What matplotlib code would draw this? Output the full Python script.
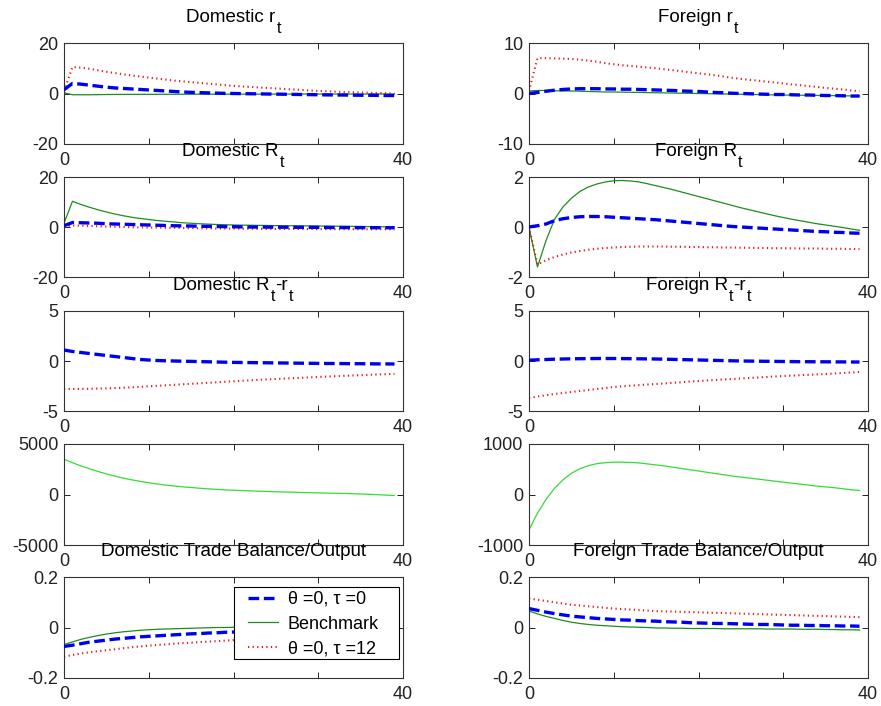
import matplotlib
matplotlib.use("Agg")
import matplotlib.pyplot as plt
from matplotlib.patches import Rectangle
import numpy as np

plt.rcParams['font.family'] = ['Liberation Sans', 'DejaVu Sans']
plt.rcParams['mathtext.default'] = 'regular'
plt.rcParams['axes.unicode_minus'] = False

periods = list(range(40))

# ---- Domestic r_t
dom_r_tt0 = [1.5, 4.0, 3.7, 3.3, 2.9, 2.5, 2.2, 2.0, 1.8, 1.6, 1.4, 1.2, 1.0, 0.8, 0.6, 0.45, 0.35, 0.25, 0.15, 0.05,
             0.0, -0.05, -0.1, -0.15, -0.2, -0.25, -0.3, -0.35, -0.4, -0.45, -0.5, -0.55, -0.6, -0.6, -0.65, -0.7, -0.7, -0.75, -0.8, -0.8]
dom_r_bench = [0.3, -0.5, -0.5, -0.5, -0.45, -0.4, -0.38, -0.36, -0.35, -0.34, -0.33, -0.32, -0.31, -0.3, -0.3, -0.29, -0.28, -0.28, -0.27, -0.27,
               -0.26, -0.26, -0.25, -0.25, -0.25, -0.24, -0.24, -0.24, -0.23, -0.23, -0.23, -0.22, -0.22, -0.22, -0.21, -0.21, -0.21, -0.2, -0.2, -0.2]
dom_r_tt12 = [1.0, 10.5, 10.2, 9.8, 9.2, 8.6, 8.1, 7.6, 7.1, 6.7, 6.3, 5.9, 5.5, 5.1, 4.8, 4.5, 4.2, 3.9, 3.6, 3.3,
              3.0, 2.8, 2.6, 2.4, 2.2, 2.0, 1.8, 1.6, 1.4, 1.2, 1.0, 0.9, 0.75, 0.6, 0.5, 0.4, 0.3, 0.2, 0.1, 0.0]

# ---- Foreign r_t
for_r_tt0 = [0.0, 0.2, 0.45, 0.65, 0.8, 0.9, 0.95, 0.95, 0.95, 0.9, 0.9, 0.85, 0.85, 0.8, 0.75, 0.7, 0.65, 0.6, 0.5, 0.45,
             0.4, 0.3, 0.2, 0.15, 0.05, 0.0, -0.05, -0.1, -0.15, -0.2, -0.2, -0.25, -0.3, -0.3, -0.35, -0.4, -0.4, -0.45, -0.5, -0.5]
for_r_bench = [0.5, 0.6, 0.6, 0.55, 0.5, 0.5, 0.45, 0.4, 0.35, 0.3, 0.3, 0.27, 0.24, 0.21, 0.18, 0.15, 0.12, 0.09, 0.06, 0.03,
               0.0, -0.03, -0.06, -0.09, -0.12, -0.15, -0.18, -0.21, -0.24, -0.27, -0.3, -0.32, -0.34, -0.36, -0.38, -0.4, -0.42, -0.45, -0.48, -0.5]
for_r_tt12 = [0.5, 7.0, 7.0, 6.95, 6.9, 6.85, 6.7, 6.5, 6.3, 6.0, 5.8, 5.6, 5.45, 5.3, 5.15, 5.0, 4.8, 4.6, 4.4, 4.2,
              4.0, 3.8, 3.6, 3.35, 3.1, 2.9, 2.7, 2.55, 2.35, 2.2, 2.0, 1.8, 1.65, 1.45, 1.3, 1.1, 0.95, 0.8, 0.6, 0.45]

# ---- Domestic R_t
dom_R_tt0 = [0.5, 1.8, 1.7, 1.6, 1.5, 1.3, 1.2, 1.1, 1.0, 0.9, 0.8, 0.7, 0.6, 0.5, 0.45, 0.4, 0.3, 0.25, 0.2, 0.15,
             0.1, 0.05, 0.0, -0.02, -0.04, -0.06, -0.08, -0.1, -0.12, -0.14, -0.16, -0.18, -0.2, -0.22, -0.24, -0.25, -0.26, -0.27, -0.28, -0.3]
dom_R_bench = [1.5, 10.3, 9.0, 7.9, 6.9, 6.0, 5.2, 4.5, 3.9, 3.4, 3.0, 2.6, 2.3, 2.0, 1.7, 1.5, 1.3, 1.15, 1.0, 0.9,
               0.8, 0.75, 0.7, 0.65, 0.6, 0.55, 0.5, 0.5, 0.45, 0.45, 0.4, 0.35, 0.3, 0.3, 0.25, 0.2, 0.15, 0.1, 0.05, 0.0]
dom_R_tt12 = [0.2, 0.6, 0.5, 0.4, 0.3, 0.2, 0.1, 0.0, -0.1, -0.15, -0.2, -0.25, -0.3, -0.35, -0.4, -0.45, -0.5, -0.55, -0.6, -0.62,
              -0.65, -0.68, -0.7, -0.72, -0.75, -0.78, -0.8, -0.8, -0.82, -0.83, -0.84, -0.85, -0.86, -0.86, -0.87, -0.88, -0.88, -0.89, -0.9, -0.9]

# ---- Foreign R_t
for_R_tt0 = [0.0, 0.05, 0.12, 0.25, 0.33, 0.38, 0.41, 0.42, 0.42, 0.41, 0.39, 0.37, 0.35, 0.33, 0.31, 0.29, 0.26, 0.23, 0.2, 0.17,
             0.14, 0.11, 0.08, 0.05, 0.02, 0.0, -0.02, -0.04, -0.06, -0.08, -0.1, -0.12, -0.14, -0.16, -0.18, -0.19, -0.21, -0.22, -0.24, -0.25]
for_R_bench = [0.0, -1.6, -0.55, 0.3, 0.8, 1.15, 1.42, 1.6, 1.72, 1.8, 1.85, 1.86, 1.84, 1.8, 1.73, 1.65, 1.57, 1.49, 1.4, 1.31,
               1.22, 1.13, 1.04, 0.95, 0.86, 0.77, 0.69, 0.61, 0.53, 0.45, 0.38, 0.31, 0.25, 0.19, 0.13, 0.08, 0.03, -0.02, -0.08, -0.13]
for_R_tt12 = [0.0, -1.5, -1.33, -1.2, -1.1, -1.02, -0.96, -0.91, -0.87, -0.84, -0.82, -0.8, -0.79, -0.78, -0.78, -0.78, -0.78, -0.79, -0.79, -0.8,
              -0.8, -0.81, -0.81, -0.82, -0.82, -0.83, -0.83, -0.84, -0.84, -0.85, -0.85, -0.85, -0.86, -0.86, -0.86, -0.87, -0.87, -0.87, -0.88, -0.88]

# ---- Domestic R_t - r_t
dom_Rr_tt0 = [1.1, 0.95, 0.85, 0.75, 0.65, 0.55, 0.45, 0.35, 0.25, 0.15, 0.1, 0.05, 0.02, 0.0, -0.02, -0.04, -0.06, -0.08, -0.1, -0.12,
              -0.14, -0.15, -0.16, -0.17, -0.18, -0.19, -0.2, -0.21, -0.22, -0.23, -0.24, -0.25, -0.25, -0.26, -0.27, -0.27, -0.28, -0.29, -0.29, -0.3]
dom_Rr_tt12 = [-2.8, -2.8, -2.79, -2.78, -2.76, -2.74, -2.71, -2.67, -2.63, -2.58, -2.53, -2.48, -2.43, -2.38, -2.33, -2.28, -2.23, -2.18, -2.13, -2.08,
               -2.03, -1.98, -1.93, -1.88, -1.84, -1.8, -1.76, -1.72, -1.68, -1.64, -1.6, -1.56, -1.52, -1.48, -1.45, -1.42, -1.38, -1.35, -1.32, -1.29]

# ---- Foreign R_t - r_t
for_Rr_tt0 = [0.08, 0.12, 0.15, 0.18, 0.2, 0.22, 0.23, 0.24, 0.25, 0.25, 0.25, 0.24, 0.23, 0.22, 0.21, 0.2, 0.18, 0.16, 0.14, 0.12,
              0.1, 0.08, 0.06, 0.04, 0.02, 0.0, -0.01, -0.02, -0.03, -0.04, -0.05, -0.06, -0.07, -0.07, -0.08, -0.08, -0.09, -0.09, -0.1, -0.1]
for_Rr_tt12 = [-3.7, -3.55, -3.42, -3.3, -3.2, -3.1, -3.0, -2.9, -2.8, -2.7, -2.6, -2.53, -2.47, -2.41, -2.35, -2.3, -2.24, -2.18, -2.12, -2.06,
               -2.0, -1.95, -1.9, -1.85, -1.8, -1.75, -1.7, -1.65, -1.6, -1.55, -1.5, -1.46, -1.42, -1.38, -1.34, -1.3, -1.25, -1.2, -1.15, -1.1]

# ---- Row 4 (untitled)
dom_row4_bench = [3500, 3150, 2830, 2550, 2280, 2040, 1820, 1620, 1450, 1300, 1160, 1040, 930, 840, 760, 690, 620, 560, 510, 460,
                  420, 390, 360, 330, 300, 270, 250, 230, 200, 180, 160, 140, 120, 100, 80, 50, 20, -20, -60, -100]
for_row4_bench = [-700, -370, -100, 120, 290, 420, 510, 570, 610, 630, 640, 640, 635, 625, 605, 585, 565, 540, 515, 490,
                  465, 440, 415, 390, 365, 345, 325, 305, 285, 265, 245, 225, 205, 185, 165, 150, 135, 115, 95, 80]

# ---- Trade balance / output
dom_tb_tt0 = [-0.075, -0.07, -0.064, -0.058, -0.054, -0.05, -0.046, -0.043, -0.04, -0.037, -0.035, -0.033, -0.031, -0.029, -0.027, -0.025, -0.024, -0.022, -0.021, -0.019,
              -0.018, -0.017, -0.016, -0.015, -0.014, -0.013, -0.012, -0.012, -0.011, -0.011, -0.01, -0.01, -0.009, -0.009, -0.008, -0.008, -0.007, -0.007, -0.006, -0.006]
dom_tb_bench = [-0.068, -0.057, -0.047, -0.039, -0.032, -0.026, -0.021, -0.017, -0.014, -0.011, -0.009, -0.007, -0.006, -0.005, -0.004, -0.003, -0.002, -0.001, 0.0, 0.0,
                0.001, 0.001, 0.001, 0.002, 0.002, 0.002, 0.002, 0.002, 0.003, 0.003, 0.003, 0.003, 0.003, 0.003, 0.003, 0.003, 0.003, 0.003, 0.003, 0.003]
dom_tb_tt12 = [-0.115, -0.109, -0.103, -0.098, -0.094, -0.09, -0.086, -0.082, -0.078, -0.075, -0.072, -0.069, -0.067, -0.064, -0.062, -0.06, -0.058, -0.056, -0.054, -0.052,
               -0.05, -0.049, -0.048, -0.047, -0.046, -0.045, -0.044, -0.043, -0.042, -0.041, -0.04, -0.039, -0.038, -0.037, -0.036, -0.035, -0.034, -0.033, -0.033, -0.032]
for_tb_tt0 = [0.075, 0.068, 0.061, 0.055, 0.05, 0.045, 0.042, 0.039, 0.036, 0.034, 0.032, 0.03, 0.029, 0.027, 0.026, 0.025, 0.023, 0.022, 0.021, 0.019,
              0.018, 0.017, 0.016, 0.016, 0.015, 0.014, 0.013, 0.012, 0.012, 0.011, 0.01, 0.009, 0.009, 0.008, 0.008, 0.007, 0.007, 0.006, 0.006, 0.005]
for_tb_bench = [0.065, 0.054, 0.044, 0.036, 0.028, 0.021, 0.016, 0.012, 0.009, 0.007, 0.005, 0.003, 0.002, 0.001, 0.0, -0.002, -0.002, -0.003, -0.003, -0.004,
                -0.004, -0.004, -0.004, -0.005, -0.005, -0.005, -0.005, -0.005, -0.006, -0.006, -0.006, -0.006, -0.007, -0.007, -0.007, -0.008, -0.008, -0.009, -0.009, -0.01]
for_tb_tt12 = [0.115, 0.11, 0.105, 0.1, 0.095, 0.09, 0.087, 0.084, 0.081, 0.078, 0.075, 0.073, 0.071, 0.069, 0.067, 0.065, 0.064, 0.063, 0.062, 0.061,
               0.06, 0.059, 0.058, 0.057, 0.056, 0.055, 0.054, 0.053, 0.052, 0.051, 0.05, 0.049, 0.048, 0.047, 0.046, 0.045, 0.044, 0.043, 0.042, 0.041]

# titles as (text, is_subscript) pieces
titles = [[("Domestic r", False), ("t", True)],
          [("Foreign r", False), ("t", True)],
          [("Domestic R", False), ("t", True)],
          [("Foreign R", False), ("t", True)],
          [("Domestic R", False), ("t", True), ("-r", False), ("t", True)],
          [("Foreign R", False), ("t", True), ("-r", False), ("t", True)],
          [], [],
          [("Domestic Trade Balance/Output", False)],
          [("Foreign Trade Balance/Output", False)]]
ylims = [20, 10, 20, 2, 5, 5, 5000, 1000, 0.2, 0.2]
yticklabels = [["-20", "0", "20"], ["-10", "0", "10"], ["-20", "0", "20"], ["-2", "0", "2"],
               ["-5", "0", "5"], ["-5", "0", "5"], ["-5000", "0", "5000"], ["-1000", "0", "1000"],
               ["-0.2", "0", "0.2"], ["-0.2", "0", "0.2"]]
legend_labels = ["\u03b8 =0, \u03c4 =0", "Benchmark", "\u03b8 =0, \u03c4 =12"]

series = [
    (dom_r_tt0, dom_r_bench, dom_r_tt12),
    (for_r_tt0, for_r_bench, for_r_tt12),
    (dom_R_tt0, dom_R_bench, dom_R_tt12),
    (for_R_tt0, for_R_bench, for_R_tt12),
    (dom_Rr_tt0, None, dom_Rr_tt12),
    (for_Rr_tt0, None, for_Rr_tt12),
    (None, dom_row4_bench, None),
    (None, for_row4_bench, None),
    (dom_tb_tt0, dom_tb_bench, dom_tb_tt12),
    (for_tb_tt0, for_tb_bench, for_tb_tt12),
]

W, H = 881, 706
fig = plt.figure(figsize=(W / 100, H / 100), dpi=100)
renderer = fig.canvas.get_renderer()
col_x = [64, 529]
col_w = 339
rows = [(43, 144), (177, 277), (311, 411), (444, 545), (577, 678)]

blue = '#0000f0'
green_dark = '#1e8c1e'
green_bright = '#33dd33'
red = '#e81818'
TITLE_FS = 13.5
SUB_FS = 11.5


def piece_title(xc_px, base_px_from_top, parts):
    texts = []
    total = 0.0
    for s, sub in parts:
        t = fig.text(0, 0, s, fontsize=SUB_FS if sub else TITLE_FS, va='baseline', ha='left')
        w = t.get_window_extent(renderer).width
        if sub:
            w += 1
        texts.append((t, w, sub))
        total += w
    x = xc_px - total / 2
    for t, w, sub in texts:
        yb = base_px_from_top + (11 if sub else 0)
        t.set_position(((x + (1 if sub else 0)) / W, 1 - yb / H))
        x += w


for i in range(10):
    r, c = divmod(i, 2)
    top, bot = rows[r]
    ax = fig.add_axes([col_x[c] / W, 1 - bot / H, col_w / W, (bot - top) / H])
    b, g, rd = series[i]
    x = np.array(periods)
    gcol = green_bright if r == 3 else green_dark
    handles = []
    if b is not None:
        handles.append(ax.plot(x, b, color=blue, lw=2.4, dashes=(3.2, 1.4), zorder=3)[0])
    if g is not None:
        handles.append(ax.plot(x, g, color=gcol, lw=0.9, zorder=2)[0])
    if rd is not None:
        handles.append(ax.plot(x, rd, color=red, lw=1.5, linestyle=(0, (0.6, 1.6)), zorder=2)[0])
    lim = ylims[i]
    ax.set_xlim(0, 40)
    ax.set_ylim(-lim, lim)
    ax.set_xticks([0, 10, 20, 30, 40])
    ax.set_xticklabels(["0", "", "", "", "40"])
    ax.set_yticks([-lim, 0, lim])
    ax.set_yticklabels(yticklabels[i])
    ax.tick_params(direction='in', top=True, right=True, length=4, width=0.7,
                   labelsize=13, colors='#222222')
    ax.tick_params(axis='x', pad=6)
    ax.tick_params(axis='y', pad=4)
    for sp in ax.spines.values():
        sp.set_color('#333333')
        sp.set_linewidth(0.8)
    if titles[i]:
        piece_title(col_x[c] + col_w / 2, top - 21, titles[i])
    if i == 8:
        ah = bot - top
        ax.add_patch(Rectangle(((234 - 64) / col_w, (bot - 659) / ah), (399 - 234) / col_w, 72 / ah,
                               transform=ax.transAxes, facecolor='white', edgecolor='black',
                               linewidth=0.8, zorder=5))
        leg = ax.legend(handles, legend_labels, loc='upper left',
                        bbox_to_anchor=((248 - 64) / col_w, (bot - 591) / ah),
                        borderaxespad=0.0, borderpad=0.0, fontsize=13, frameon=False,
                        handlelength=1.66, labelspacing=0.42, handletextpad=0.55)
        leg.set_zorder(6)

fig.savefig("out.png", dpi=100)
